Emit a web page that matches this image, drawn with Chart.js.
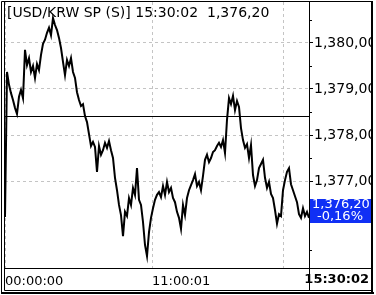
<!DOCTYPE html>
<html><head><meta charset="utf-8">
<script src="https://cdn.jsdelivr.net/npm/chart.js@4/dist/chart.umd.min.js"></script>
<style>html,body{margin:0;padding:0;background:#fff;overflow:hidden}</style>
</head><body>
<canvas id="c" width="376" height="295"></canvas>
<script>
const titleText = '[USD/KRW SP (S)] 15:30:02  1,376,20';
const values = [
1376.22,1379.37,1379.09,1378.91,1378.76,1378.59,1378.46,1378.83,1378.98,1378.80,
1379.85,1379.52,1379.67,1379.37,1379.50,1379.24,1379.54,1379.41,1379.74,1379.98,
1380.07,1380.22,1380.33,1380.17,1380.54,1380.39,1380.28,1380.11,1379.89,1379.59,
1379.30,1379.63,1379.50,1379.67,1379.37,1379.24,1378.93,1378.76,1378.63,1378.67,
1378.41,1378.28,1378.02,1377.76,1377.85,1377.74,1377.20,1377.76,1377.57,1377.67,
1377.83,1377.72,1377.87,1377.67,1377.50,1377.07,1376.80,1376.48,1376.26,1375.80,
1376.33,1376.24,1376.63,1376.48,1376.85,1376.70,1377.28,1376.59,1376.48,1376.11,
1375.61,1375.37,1375.89,1376.20,1376.41,1376.59,1376.70,1376.76,1376.65,1376.89,
1376.70,1376.98,1376.76,1376.85,1376.63,1376.54,1376.33,1376.20,1375.96,1376.48,
1376.26,1376.63,1376.80,1376.91,1377.02,1377.15,1376.89,1376.98,1376.80,1377.11,
1377.46,1377.57,1377.41,1377.50,1377.63,1377.67,1377.76,1377.83,1377.74,1377.89,
1377.61,1378.33,1378.80,1378.67,1378.85,1378.54,1378.74,1378.61,1378.15,1377.89,
1377.72,1377.80,1377.50,1377.78,1377.13,1376.89,1377.02,1377.28,1377.37,1377.46,
1377.07,1376.85,1376.98,1376.72,1376.63,1376.37,1376.07,1376.28,1376.24,1376.80,
1377.02,1377.20,1377.28,1376.93,1376.80,1376.67,1376.54,1376.28,1376.20,1376.41,
1376.24,1376.33,1376.20
];
const xTickIndex = [0, 73.5, 139];
const xTickLabels = ['00:00:00', '11:00:01', ''];
const lastTimeLabel = '15:30:02';
const yTicks = [1377, 1378, 1379, 1380];
const yMinorTicks = [1375.5, 1376.5, 1377.5, 1378.5, 1379.5, 1380.5];
const yMin = 1375.11, yMax = 1380.89;
const prevClose = 1378.41;
const lastValue = 1376.20;
const changeText = '-0,16%';

const FONT = 'DejaVu Sans';
function fmt(v){
  const s = v.toFixed(2).split('.');
  const int = s[0].replace(/\B(?=(\d{3})+(?!\d))/g, ',');
  return int + ',' + s[1];
}

const overlay = {
  id: 'overlay',
  afterDraw(chart){
    const ctx = chart.ctx, a = chart.chartArea, y = chart.scales.y;
    ctx.save();
    const py = Math.round(y.getPixelForValue(prevClose)) + 0.5;
    ctx.strokeStyle = '#000'; ctx.lineWidth = 1; ctx.setLineDash([]);
    ctx.beginPath(); ctx.moveTo(a.left, py); ctx.lineTo(a.right, py); ctx.stroke();
    yMinorTicks.forEach(v => {
      const ty = Math.round(y.getPixelForValue(v)) + 0.5;
      ctx.beginPath(); ctx.moveTo(a.right, ty); ctx.lineTo(a.right + 3, ty); ctx.stroke();
    });
    ctx.fillStyle = '#000';
    ctx.font = '14px "' + FONT + '"';
    ctx.textBaseline = 'middle'; ctx.textAlign = 'left';
    ctx.fillText(titleText, 7, 13);
    ctx.fillStyle = '#fff';
    ctx.fillRect(371, 0, 5, 295);
    ctx.fillStyle = '#1030f5';
    ctx.fillRect(a.right + 1, 199, 371 - a.right - 1, 24);
    ctx.fillStyle = '#fff';
    ctx.font = '13px "' + FONT + '"';
    ctx.textAlign = 'left';
    ctx.fillText(fmt(lastValue), a.right + 3, 205);
    ctx.textAlign = 'center';
    ctx.fillText(changeText, (a.right + 371) / 2, 217);
    ctx.strokeStyle = '#000'; ctx.lineWidth = 1;
    ctx.beginPath();
    ctx.moveTo(1.5, 1.5); ctx.lineTo(372.5, 1.5);
    ctx.moveTo(1.5, 1.5); ctx.lineTo(1.5, 292.5);
    ctx.moveTo(4.5, 1.5); ctx.lineTo(4.5, 290.5);
    ctx.moveTo(a.right + 0.5, 1.5); ctx.lineTo(a.right + 0.5, 290.5);
    ctx.moveTo(4.5, a.bottom + 0.5); ctx.lineTo(372, a.bottom + 0.5);
    ctx.moveTo(4.5, 290.5); ctx.lineTo(372, 290.5);
    ctx.stroke();
    ctx.lineWidth = 2;
    ctx.beginPath();
    ctx.moveTo(372, 1); ctx.lineTo(372, 294);
    ctx.moveTo(1, 293); ctx.lineTo(374, 293);
    ctx.stroke();
    ctx.fillStyle = '#000';
    ctx.font = 'bold 13px "' + FONT + '"';
    ctx.textAlign = 'right'; ctx.textBaseline = 'middle';
    ctx.fillText(lastTimeLabel, 369, 280);
    ctx.restore();
  }
};

new Chart(document.getElementById('c'), {
  type: 'line',
  data: { datasets: [{
    data: values.map((v, i) => ({x: i, y: v})),
    borderColor: '#000', borderWidth: 2, pointRadius: 0, tension: 0, fill: false
  }]},
  options: {
    responsive: false, animation: false, devicePixelRatio: 1,
    layout: { padding: { left: 5, top: 2, right: 0, bottom: 0 } },
    plugins: { legend: {display: false}, tooltip: {enabled: false} },
    scales: {
      x: {
        type: 'linear', min: 0, max: values.length - 1,
        afterBuildTicks(s){ s.ticks = xTickIndex.map(v => ({value: v})); },
        afterFit(s){ s.height = 27; s.paddingLeft = 0; s.paddingRight = 0; },
        ticks: {
          autoSkip: false, maxRotation: 0, align: 'start', padding: 6,
          color: '#000', font: {family: FONT, size: 13},
          callback: (v, i) => xTickLabels[i]
        },
        grid: { color: '#c4c4c4', drawTicks: false, tickLength: 0 },
        border: { display: false, dash: [3, 3] }
      },
      y: {
        position: 'right', min: yMin, max: yMax,
        afterBuildTicks(s){ s.ticks = yTicks.map(v => ({value: v})); },
        afterFit(s){ s.width = 67; s.paddingTop = 0; s.paddingBottom = 0; },
        ticks: {
          color: '#000', padding: 1, font: {family: FONT, size: 14},
          callback: v => fmt(v)
        },
        grid: { color: '#c4c4c4', tickColor: '#000', tickLength: 4 },
        border: { display: false, dash: [3, 3] }
      }
    }
  },
  plugins: [overlay]
});
</script>
</body></html>
